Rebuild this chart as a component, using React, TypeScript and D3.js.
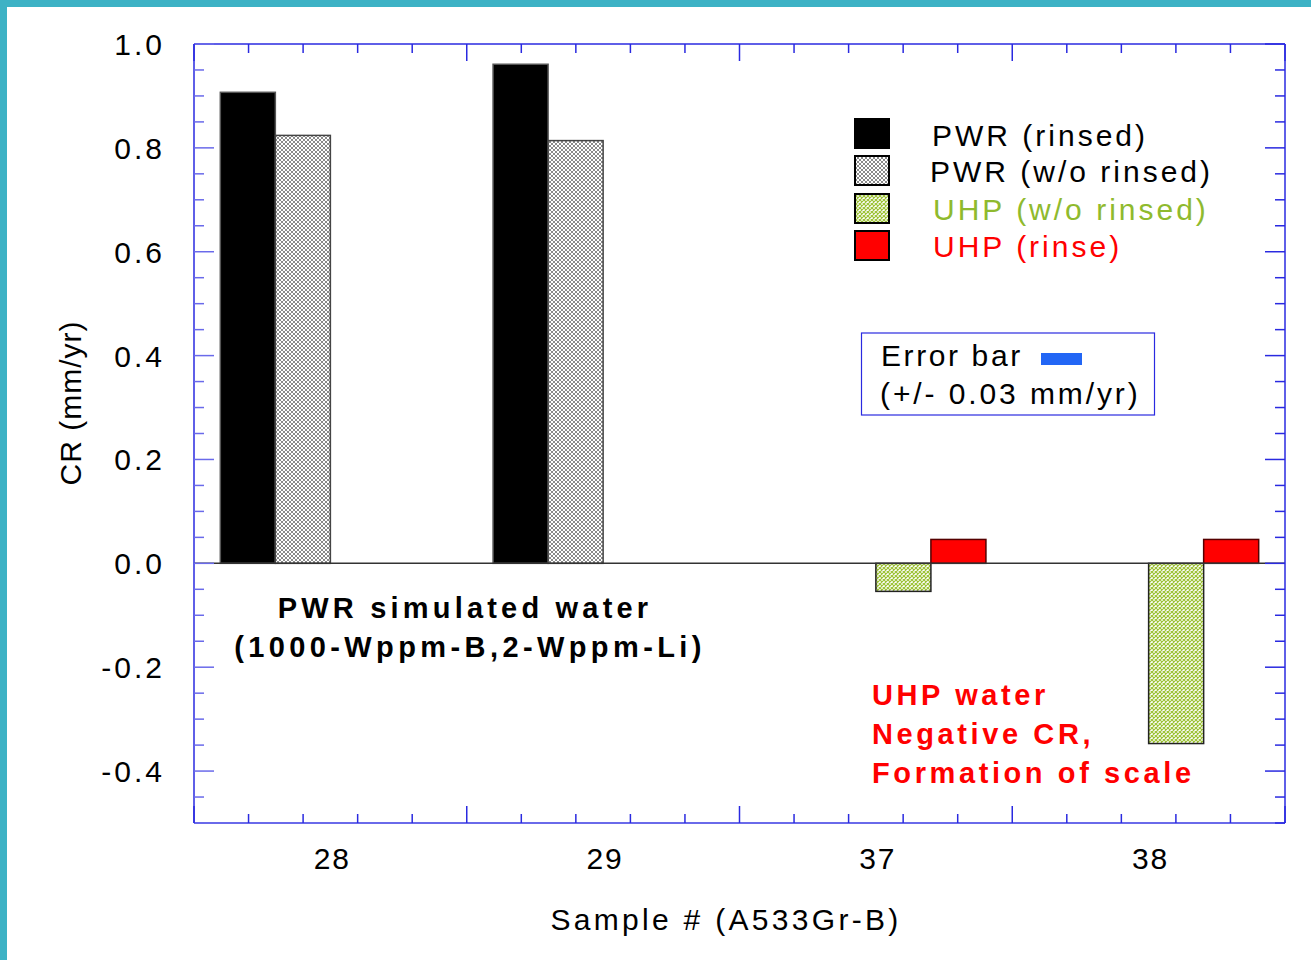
import React from "react";
import * as d3 from "d3";

const categories = ["28", "29", "37", "38"];
const seriesNames = ["PWR (rinsed)", "PWR (w/o rinsed)", "UHP (w/o rinsed)", "UHP (rinse)"];
const pwrRinsed = [0.907, 0.961, null, null];
const pwrWoRinsed = [0.824, 0.814, null, null];
const uhpWoRinsed = [null, null, -0.054, -0.347];
const uhpRinse = [null, null, 0.046, 0.046];
const yMajorTicks = [-0.4, -0.2, 0.0, 0.2, 0.4, 0.6, 0.8, 1.0];
const yLabel = "CR (mm/yr)";
const xLabel = "Sample # (A533Gr-B)";

const W = 1311, H = 960;
const L = 194, R = 1285, T = 44, B = 823;
const FONT = "'Liberation Sans', Arial, Helvetica, sans-serif";
const AXIS = "#2a2ae0";
const AXIS_LIGHT = "#6a6aea";

export default function App() {
  const x = d3.scaleBand<string>().domain(categories).range([L, R]).paddingInner(0).paddingOuter(0);
  const y = d3.scaleLinear().domain([-0.5, 1.0]).range([B, T]);
  const bw = x.bandwidth();
  const gw = bw * 0.807;
  const sub = d3.scaleBand<string>().domain(seriesNames).range([0, gw]);
  const seriesData = [pwrRinsed, pwrWoRinsed, uhpWoRinsed, uhpRinse];
  const fills = ["#000000", "url(#hatchGray)", "url(#hatchGreen)", "#ff0000"];
  const strokes = ["#555", "#444", "#222", "#550000"];

  const yMinor = d3.range(-0.5, 1.0001, 0.05).map((v) => +v.toFixed(2));
  const xBoundaries = d3.range(0, categories.length + 1).map((i) => L + i * bw);
  const xMinor: number[] = [];
  for (let i = 0; i < categories.length; i++) for (let j = 1; j < 5; j++) xMinor.push(L + i * bw + (j * bw) / 5);

  const bars: JSX.Element[] = [];
  seriesData.forEach((arr, si) => {
    arr.forEach((v, ci) => {
      if (v === null) return;
      const x0 = (x(categories[ci]) as number) + (bw - gw) / 2 + (sub(seriesNames[si]) as number);
      const y0 = y(Math.max(0, v));
      const y1 = y(Math.min(0, v));
      bars.push(
        <rect key={`b${si}-${ci}`} x={x0} y={y0} width={sub.bandwidth()} height={y1 - y0}
          fill={fills[si]} stroke={strokes[si]} strokeWidth={1.5} />
      );
    });
  });

  const legendY = [119, 156, 194, 231];
  const legendText = [146, 182, 220, 257];
  const legendColor = ["#000", "#000", "#8fba2e", "#ff0000"];
  const legendTextX = [932, 930, 933, 933];

  return (
    <svg width={W} height={H} style={{ position: "absolute", left: 0, top: 0, background: "#fff" }} fontFamily={FONT}>
      <defs>
        <pattern id="hatchGray" width="4" height="4" patternUnits="userSpaceOnUse">
          <rect width="4" height="4" fill="#fff" />
          <path d="M0,0 L4,4 M4,0 L0,4" stroke="#8a8a8a" strokeWidth="1" />
        </pattern>
        <pattern id="hatchGreen" width="4" height="4" patternUnits="userSpaceOnUse">
          <rect width="4" height="4" fill="#fff" />
          <path d="M0,0 L4,4 M4,0 L0,4" stroke="#9cc234" strokeWidth="1.2" />
        </pattern>
      </defs>
      <rect x={0} y={0} width={W} height={H} fill="#fff" />
      <rect x={0} y={0} width={W} height={7} fill="#3db2c5" />
      <rect x={0} y={0} width={7} height={H} fill="#3db2c5" />

      {bars}
      <line x1={L} x2={R} y1={y(0)} y2={y(0)} stroke="#333" strokeWidth={1.5} />

      {/* frame */}
      <line x1={L} x2={R} y1={T} y2={T} stroke={AXIS} strokeWidth={1.5} />
      <line x1={L} x2={R} y1={B} y2={B} stroke={AXIS_LIGHT} strokeWidth={2} />
      <line x1={L} x2={L} y1={T} y2={B} stroke={AXIS} strokeWidth={1.5} />
      <line x1={R} x2={R} y1={T} y2={B} stroke={AXIS} strokeWidth={1.5} />

      {/* y ticks */}
      {yMinor.map((v, i) => {
        const major = yMajorTicks.some((m) => Math.abs(m - v) < 1e-6) || Math.abs(v - 1) < 1e-6;
        const len = major ? 20 : 10;
        return (
          <g key={`yt${i}`}>
            <line x1={L} x2={L + len} y1={y(v)} y2={y(v)} stroke={AXIS_LIGHT} strokeWidth={1.5} />
            <line x1={R} x2={R - len} y1={y(v)} y2={y(v)} stroke={AXIS} strokeWidth={1.5} />
          </g>
        );
      })}
      {/* x ticks */}
      {xBoundaries.map((v, i) => (
        <g key={`xb${i}`}>
          <line x1={v} x2={v} y1={B} y2={B - 17} stroke={AXIS} strokeWidth={1.5} />
          <line x1={v} x2={v} y1={T} y2={T + 17} stroke={AXIS} strokeWidth={1.5} />
        </g>
      ))}
      {xMinor.map((v, i) => (
        <g key={`xm${i}`}>
          <line x1={v} x2={v} y1={B} y2={B - 9} stroke={AXIS} strokeWidth={1.5} />
          <line x1={v} x2={v} y1={T} y2={T + 9} stroke={AXIS} strokeWidth={1.5} />
        </g>
      ))}

      {/* y tick labels */}
      {yMajorTicks.map((v) => (
        <text key={`yl${v}`} x={165} y={y(v) + 11} textAnchor="end" fontSize={30} letterSpacing={3} fill="#000">
          {v.toFixed(1)}
        </text>
      ))}
      {/* x tick labels */}
      {categories.map((c) => (
        <text key={`xl${c}`} x={(x(c) as number) + bw / 2 + 2} y={869} textAnchor="middle" fontSize={30} letterSpacing={2} fill="#000">
          {c}
        </text>
      ))}

      <text x={726} y={930} textAnchor="middle" fontSize={30} letterSpacing={3.3} fill="#000">{xLabel}</text>
      <text transform="translate(81,403) rotate(-90)" textAnchor="middle" fontSize={30} letterSpacing={1} fill="#000">{yLabel}</text>

      {/* legend */}
      {seriesNames.map((s, i) => (
        <g key={`lg${i}`}>
          <rect x={855} y={legendY[i]} width={34} height={29} fill={fills[i]} stroke="#000" strokeWidth={2} />
          <text x={legendTextX[i]} y={legendText[i]} fontSize={30} letterSpacing={3} fill={legendColor[i]}>{s}</text>
        </g>
      ))}

      {/* error bar box */}
      <rect x={861.5} y={333} width={293} height={82} fill="#fff" stroke={AXIS} strokeWidth={1.2} />
      <text x={881} y={366} fontSize={30} letterSpacing={2.6} fill="#000">Error bar</text>
      <rect x={1041} y={353} width={41} height={12} fill="#2266f5" />
      <text x={880} y={404} fontSize={30} letterSpacing={2.9} fill="#000">(+/- 0.03 mm/yr)</text>

      {/* annotations */}
      <text x={465} y={618} textAnchor="middle" fontSize={29} fontWeight="bold" letterSpacing={4.2} fill="#000">PWR simulated water</text>
      <text x={470} y={657} textAnchor="middle" fontSize={29} fontWeight="bold" letterSpacing={4.4} fill="#000">(1000-Wppm-B,2-Wppm-Li)</text>

      <text x={872} y={705} fontSize={29} fontWeight="bold" letterSpacing={3.6} fill="#ff0000">UHP water</text>
      <text x={872} y={744} fontSize={29} fontWeight="bold" letterSpacing={3.6} fill="#ff0000">Negative CR,</text>
      <text x={872} y={783} fontSize={29} fontWeight="bold" letterSpacing={3.6} fill="#ff0000">Formation of scale</text>
    </svg>
  );
}
